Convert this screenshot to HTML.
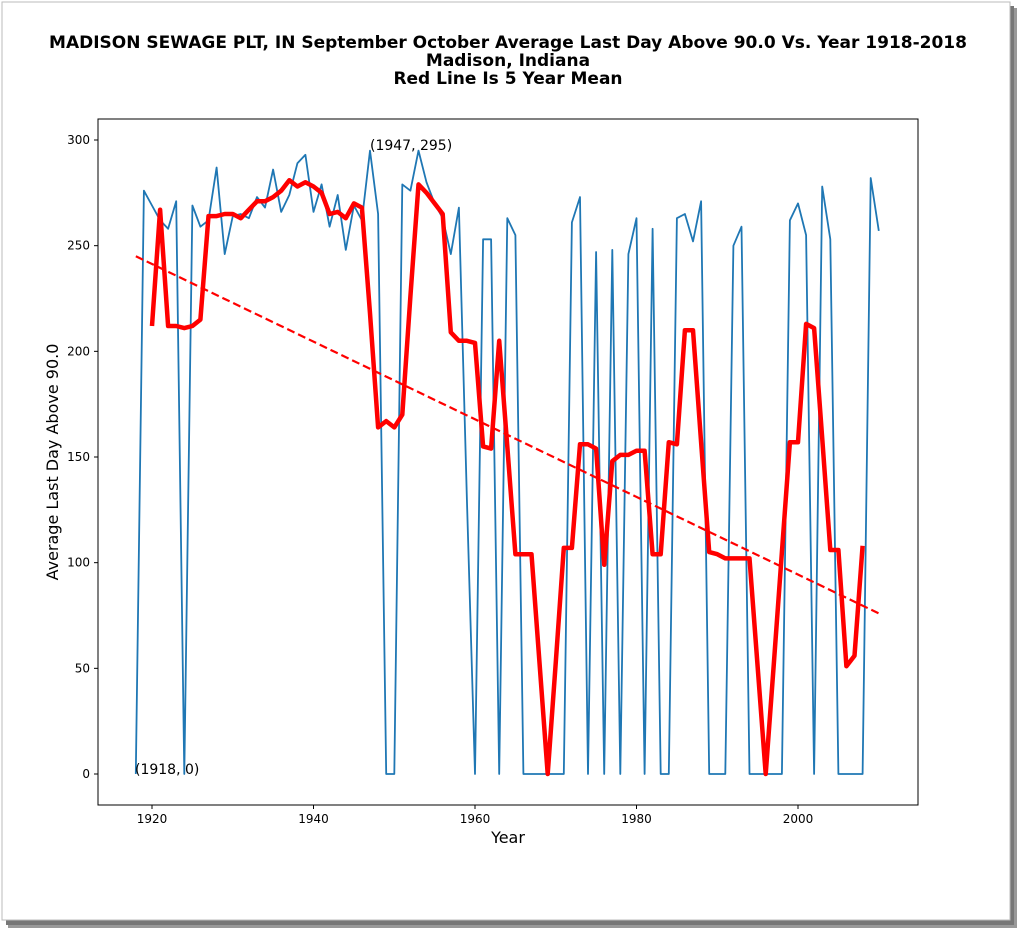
<!DOCTYPE html>
<html><head><meta charset="utf-8"><style>
body{margin:0;background:#fff;}
svg{display:block;font-family:"DejaVu Sans","Liberation Sans",sans-serif;}
</style></head><body>
<svg id="s" width="1024" height="933" xmlns="http://www.w3.org/2000/svg">
<rect x="0" y="0" width="1024" height="933" fill="#fff"/>
<rect x="8" y="8" width="1009" height="920" fill="#999"/>
<rect x="6" y="6" width="1008" height="919" fill="#777"/>
<rect x="2" y="2" width="1008" height="918" fill="#fff" stroke="#bbb" stroke-width="1"/>
<text x="508" y="48" font-size="17" font-weight="bold" text-anchor="middle">MADISON SEWAGE PLT, IN  September October Average Last Day Above 90.0 Vs. Year 1918-2018</text>
<text x="508" y="66" font-size="17" font-weight="bold" text-anchor="middle">Madison, Indiana</text>
<text x="508" y="84" font-size="17" font-weight="bold" text-anchor="middle">Red Line Is 5 Year Mean</text>
<rect x="98" y="119" width="820" height="686" fill="none" stroke="#000" stroke-width="1"/>
<g id="ticks" font-size="12"></g>
<text x="508" y="843" font-size="16" text-anchor="middle">Year</text>
<text transform="translate(58,462) rotate(-90)" font-size="16" text-anchor="middle">Average Last Day Above 90.0</text>
<g id="plot"></g>
<text x="135" y="774" font-size="14">(1918, 0)</text>
<text x="370" y="150" font-size="14">(1947, 295)</text>
</svg>
<script>
const X=y=>135.85+(y-1918)*8.075, Y=v=>774-v*2.1133;
const blue={1918:0,1919:276,1920:269,1921:262,1922:258,1923:271,1924:0,1925:269,1926:259,1927:262,1928:287,1929:246,1930:264,1931:265,1932:263,1933:273,1934:268,1935:286,1936:266,1937:274,1938:289,1939:293,1940:266,1941:279,1942:259,1943:274,1944:248,1945:269,1946:262,1947:295,1948:265,1949:0,1950:0,1951:279,1952:276,1953:295,1954:280,1955:270,1956:263,1957:246,1958:268,1959:130,1960:0,1961:253,1962:253,1963:0,1964:263,1965:255,1966:0,1967:0,1968:0,1969:0,1970:0,1971:0,1972:261,1973:273,1974:0,1975:247,1976:0,1977:248,1978:0,1979:246,1980:263,1981:0,1982:258,1983:0,1984:0,1985:263,1986:265,1987:252,1988:271,1989:0,1990:0,1991:0,1992:250,1993:259,1994:0,1995:0,1996:0,1997:0,1998:0,1999:262,2000:270,2001:255,2002:0,2003:278,2004:253,2005:0,2006:0,2007:0,2008:0,2009:282,2010:257};
const red=[212,267,212,212,211,212,215,264,264,265,265,263,267,271,271,273,276,281,278,280,278,275,265,266,263,270,268,218,164,167,164,170,226,279,275,270,265,209,205,205,204,155,154,205,155,104,104,104,52,0,53,107,107,156,156,154,99,148,151,151,153,153,104,104,157,156,210,210,157,105,104,102,102,102,102,51,0,52,105,157,157,213,211,159,106,106,51,56,108];
let bp=Object.keys(blue).map(k=>X(+k).toFixed(1)+","+Y(blue[k]).toFixed(1)).join(" ");
let rp=red.map((v,i)=>X(1920+i).toFixed(1)+","+Y(v).toFixed(1)).join(" ");
let h='<polyline points="'+bp+'" fill="none" stroke="#1f77b4" stroke-width="1.8" stroke-linejoin="round"/>';
h+='<line x1="'+X(1918)+'" y1="'+Y(245)+'" x2="'+X(2010)+'" y2="'+Y(76)+'" stroke="#f00" stroke-width="2.2" stroke-dasharray="8,4"/>';
h+='<polyline points="'+rp+'" fill="none" stroke="#f00" stroke-width="4.5" stroke-linejoin="round"/>';
document.getElementById('plot').innerHTML=h;
let t='';
for(let y=1920;y<=2000;y+=20){let x=X(y);t+='<line x1="'+x+'" y1="805" x2="'+x+'" y2="809" stroke="#000"/><text x="'+x+'" y="823" text-anchor="middle">'+y+'</text>';}
for(let v=0;v<=300;v+=50){let y=Y(v);t+='<line x1="94" y1="'+y+'" x2="98" y2="'+y+'" stroke="#000"/><text x="90" y="'+(y+4)+'" text-anchor="end">'+v+'</text>';}
document.getElementById('ticks').innerHTML=t;
</script>
</body></html>
